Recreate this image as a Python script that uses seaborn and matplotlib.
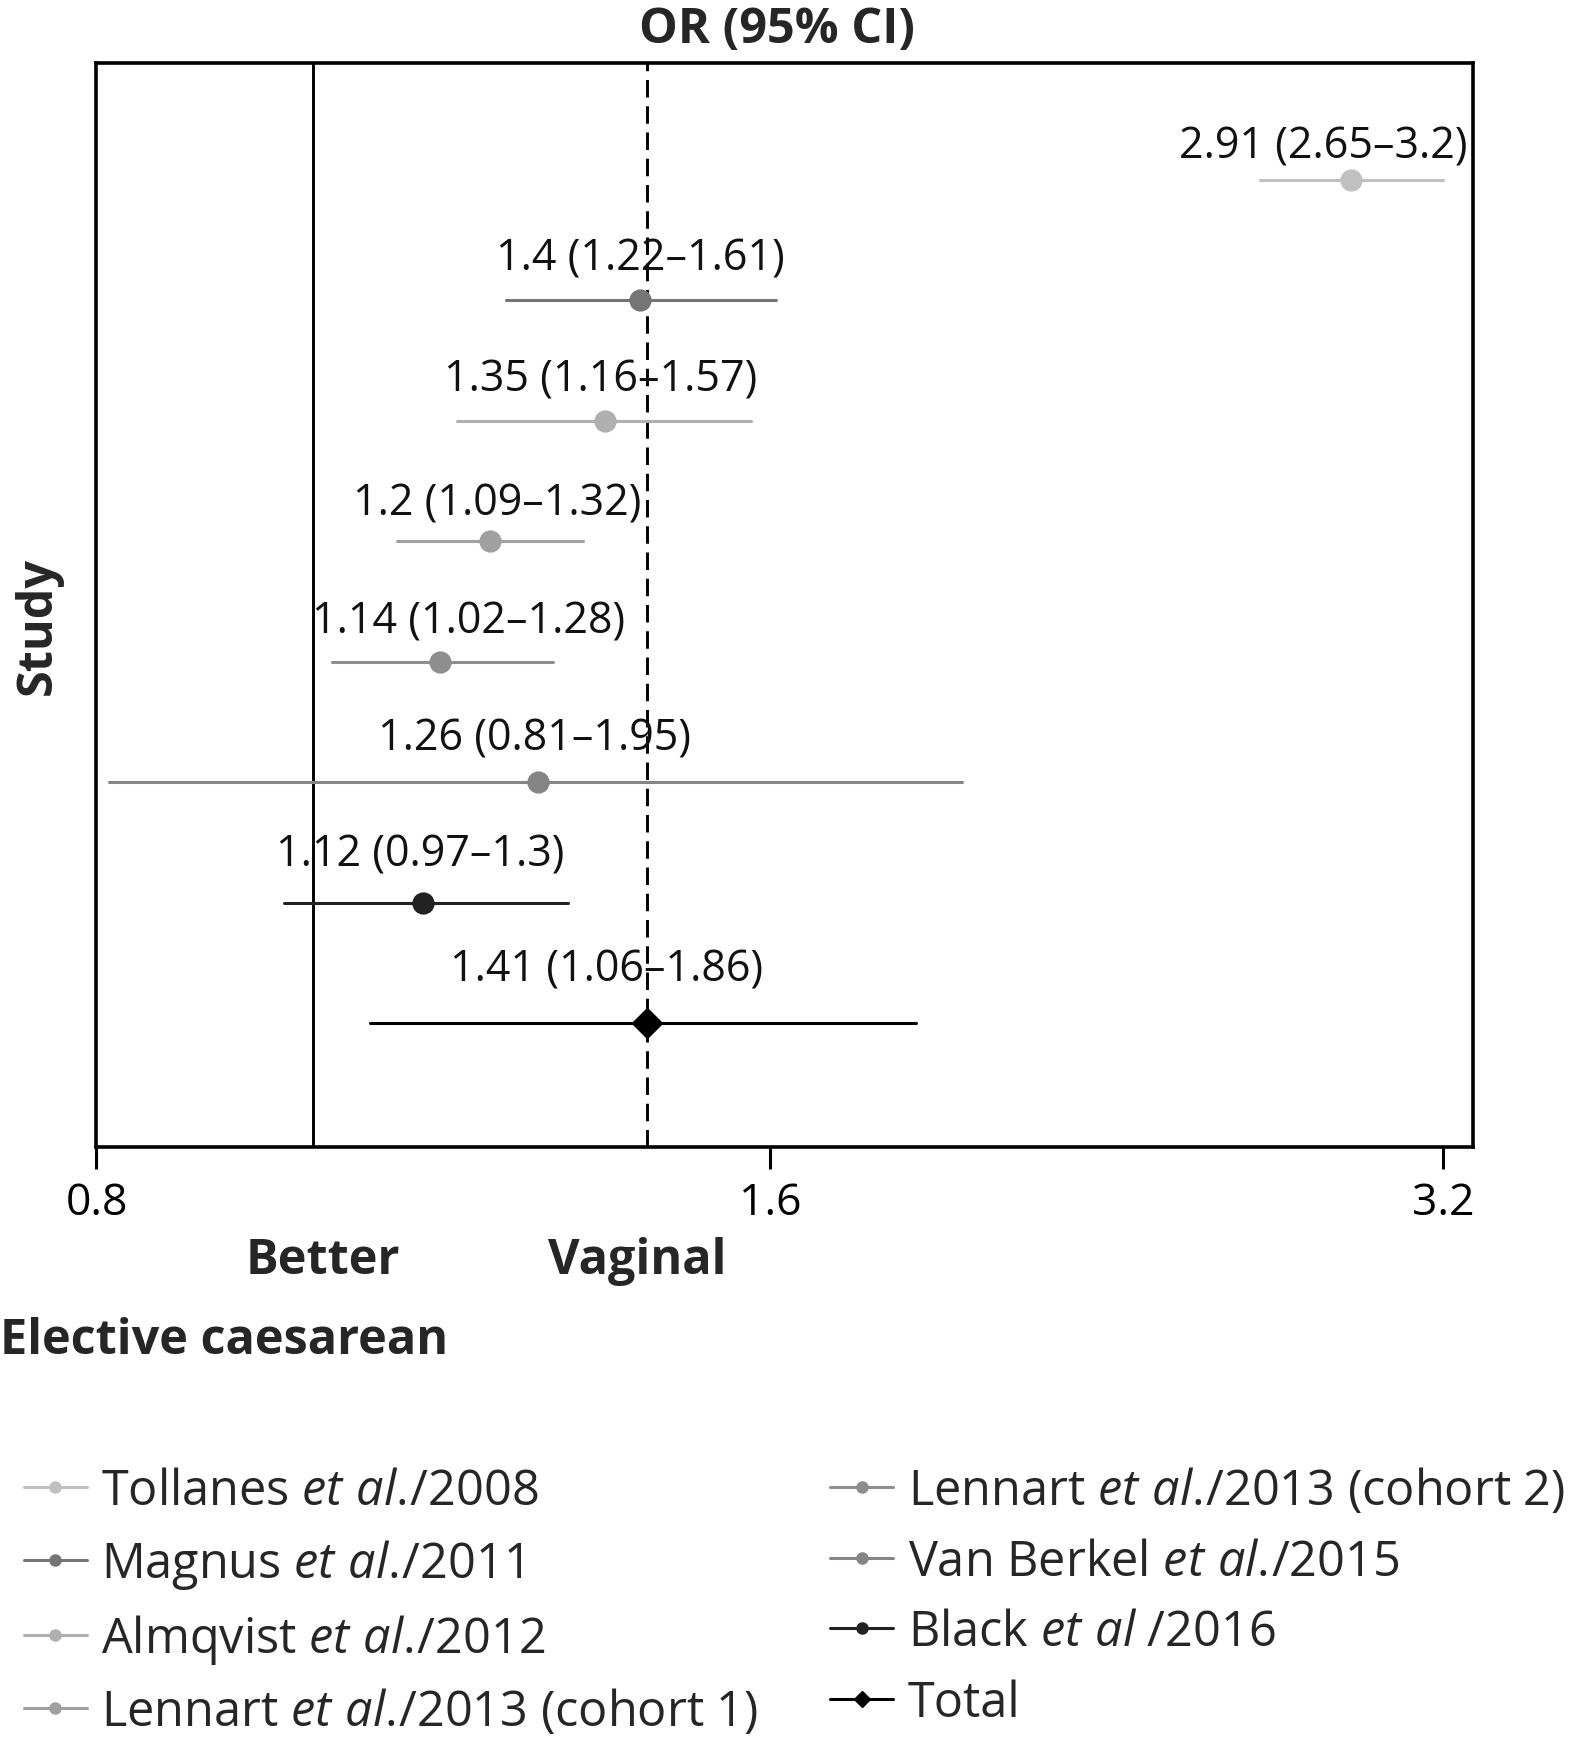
import matplotlib
matplotlib.use("Agg")
import matplotlib.pyplot as plt
from matplotlib.lines import Line2D
import pandas as pd
import seaborn as sns

# Dados do forest plot
studies = ["Tollanes $\\mathit{et\\ al.}\\!$/2008",
           "Magnus $\\mathit{et\\ al.}\\!$/2011",
           "Almqvist $\\mathit{et\\ al.}\\!$/2012",
           "Lennart $\\mathit{et\\ al.}\\!$/2013 (cohort 1)",
           "Lennart $\\mathit{et\\ al.}\\!$/2013 (cohort 2)",
           "Van Berkel $\\mathit{et\\ al.}\\!$/2015",
           "Black $\\mathit{et\\ al}$ /2016",
           "Total"]
odds_ratio = [2.91, 1.4, 1.35, 1.2, 1.14, 1.26, 1.12, 1.41]
ci_low = [2.65, 1.22, 1.16, 1.09, 1.02, 0.81, 0.97, 1.06]
ci_high = [3.2, 1.61, 1.57, 1.32, 1.28, 1.95, 1.3, 1.86]
labels = ["2.91 (2.65–3.2)", "1.4 (1.22–1.61)", "1.35 (1.16–1.57)",
          "1.2 (1.09–1.32)", "1.14 (1.02–1.28)", "1.26 (0.81–1.95)",
          "1.12 (0.97–1.3)", "1.41 (1.06–1.86)"]
x_ticks = [0.8, 1.6, 3.2]

colors = ["#c0c0c0", "#757575", "#b0b0b0", "#a0a0a0",
          "#8e8e8e", "#858585", "#222222", "#000000"]
markers = ["o"] * 7 + ["D"]
# deslocamento dos rótulos em px (x, y)
label_dx = [-28, 0, -4, 7, 28, -3, -3, -40]
label_dy = [22, 31, 30, 27, 29, 33, 37, 42]

# formato longo: cada estudo tem (ic_inf, or, ic_sup)
rows = []
for s, lo, o, hi in zip(studies, ci_low, odds_ratio, ci_high):
    for v in (lo, o, hi):
        rows.append({"study": s, "value": v})
df = pd.DataFrame(rows)

sns.set_theme(style="white")
plt.rcParams["font.family"] = ["Open Sans", "DejaVu Sans"]
plt.rcParams["mathtext.fontset"] = "custom"
plt.rcParams["mathtext.rm"] = "Open Sans"
plt.rcParams["mathtext.it"] = "Open Sans:italic"

fig = plt.figure(figsize=(15.81, 17.40), dpi=100)
ax = fig.add_axes([0.061, 0.3402, 0.8707, 0.623])
ax.set_xscale("log", base=2)

sns.pointplot(data=df, x="value", y="study", hue="study", order=studies,
              hue_order=studies, palette=colors, markers=markers,
              estimator="median", errorbar=("pi", 100), linestyle="none",
              markersize=14, err_kws={"linewidth": 2.2}, legend=False, ax=ax)

ax.axvline(1.0, color="black", lw=2.1, zorder=0)
ax.axvline(odds_ratio[-1], color="black", lw=2.1, dashes=(6, 3), zorder=0)

for i, (o, lab) in enumerate(zip(odds_ratio, labels)):
    ax.annotate(lab, (o, i), xytext=(label_dx[i], label_dy[i]),
                textcoords="offset pixels", ha="center", va="baseline",
                fontsize=31, color="#111111")

ax.set_xlim(0.8, 3.30)
ax.set_ylim(8.03, -0.97)
ax.set_xticks(x_ticks)
ax.set_xticklabels([str(t) for t in x_ticks])
ax.minorticks_off()
ax.set_yticks([])
ax.set_xlabel("")
ax.set_ylabel("")
ax.tick_params(axis="x", bottom=True, length=16, width=2.2, pad=8,
               labelsize=32, colors="black")
for sp in ax.spines.values():
    sp.set_visible(True)
    sp.set_color("black")
    sp.set_linewidth(2.6)

fig.text(0.4915, 0.975, "OR (95% CI)", ha="center", va="baseline",
         fontsize=35, fontweight="bold")
fig.text(0.024, 0.640, "Study", rotation=90, ha="center", va="center",
         fontsize=35, fontweight="bold")
fig.text(0.204, 0.268, "Better", ha="center", va="baseline",
         fontsize=35, fontweight="bold")
fig.text(0.403, 0.268, "Vaginal", ha="center", va="baseline",
         fontsize=35, fontweight="bold")
fig.text(0.0, 0.222, "Elective caesarean", ha="left", va="baseline",
         fontsize=35, fontweight="bold")

handles = [Line2D([0], [0], color=c, marker=m, lw=2.2, markersize=8)
           for c, m in zip(colors, markers)]
leg_kw = dict(frameon=False, loc="upper left", borderpad=0, borderaxespad=0,
              handlelength=1.3, handletextpad=0.3, labelspacing=0.43,
              fontsize=35)
leg1 = fig.legend(handles[:4], studies[:4], bbox_to_anchor=(0.015, 0.1567), **leg_kw)
leg2 = fig.legend(handles[4:], studies[4:], bbox_to_anchor=(0.525, 0.1567), **leg_kw)

fig.savefig("out.png", dpi=100)
